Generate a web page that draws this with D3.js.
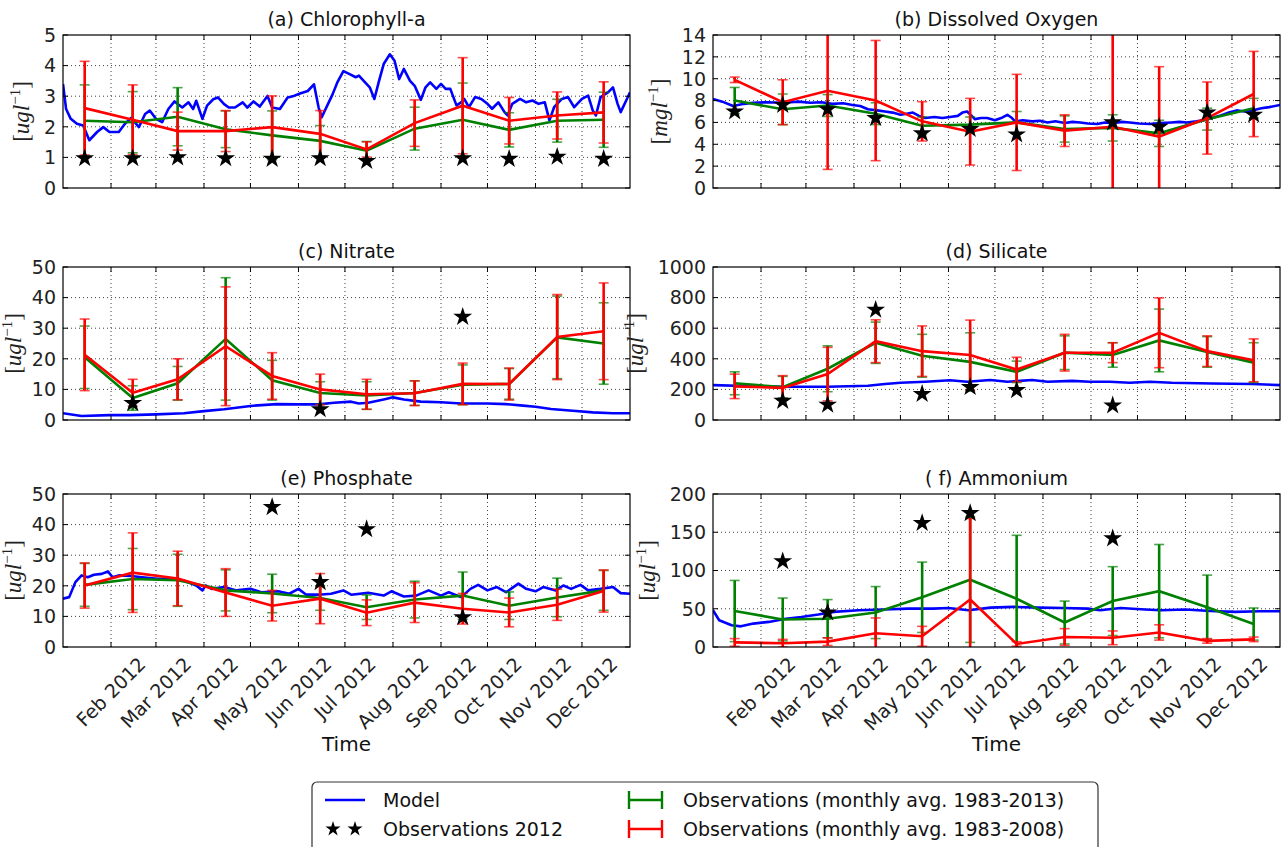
<!DOCTYPE html>
<html><head><meta charset="utf-8">
<script src="https://cdn.jsdelivr.net/npm/d3@7"></script>
<style>
body{margin:0;background:#fff;}
svg{display:block;font-family:"DejaVu Sans",sans-serif;}
</style></head><body>
<svg id="fig" width="1282" height="847"></svg>
<script>
// Monthly observation means/std are placed at the 15th of each month.
const monthIndex = [0,1,2,3,4,5,6,7,8,9,10,11];

// (a) Chlorophyll-a
const chlRedMean   = [2.61,2.23,1.86,1.86,1.99,1.77,1.26,2.12,2.69,2.2,2.37,2.47];
const chlRedErr    = [1.53,1.14,0.62,0.67,1.02,0.76,0.25,0.76,1.57,0.76,0.77,1.0];
const chlGreenMean = [2.2,2.15,2.33,1.92,1.72,1.54,1.22,1.94,2.23,1.9,2.2,2.23];
const chlGreenErr  = [1.17,1.0,0.95,0.6,0.8,0.5,0.3,0.7,1.2,0.56,0.7,0.9];
const chlStars     = [0.97,0.97,1.0,0.97,0.95,0.97,0.88,null,0.97,0.95,1.02,0.95];
const chlModel = [[0,3.4],[2,2.58],[5,2.26],[9,2.1],[13,2.04],[17,1.56],[22,1.83],[26,1.99],[30,1.83],[36,1.83],[40,2.1],[44,2.29],[49,1.99],[53,2.42],[56,2.53],[60,2.26],[64,2.15],[68,2.58],[72,2.83],[77,2.63],[81,2.8],[84,2.58],[86,2.85],[90,2.26],[93,2.69],[97,2.9],[100,2.96],[104,2.74],[107,2.63],[111,2.63],[116,2.8],[119,2.63],[123,2.83],[127,2.66],[132,3.01],[135,2.63],[140,2.58],[145,2.96],[149,3.01],[153,3.09],[158,3.17],[162,3.39],[165,2.63],[167,2.31],[171,2.74],[174,3.06],[177,3.44],[181,3.82],[185,3.72],[189,3.62],[191,3.67],[195,3.45],[198,3.29],[201,2.91],[204,3.5],[207,4.05],[211,4.37],[214,4.16],[217,3.56],[220,3.89],[224,3.5],[227,3.34],[231,2.88],[234,3.29],[237,3.45],[241,3.24],[244,3.4],[247,3.24],[250,3.24],[254,2.7],[257,2.8],[259,2.91],[262,2.64],[266,2.97],[270,2.91],[274,2.75],[277,2.59],[281,2.8],[285,2.48],[287,2.37],[290,2.75],[295,2.91],[299,2.8],[303,2.86],[307,2.75],[311,2.8],[314,2.21],[317,2.64],[322,2.91],[326,2.97],[330,2.64],[335,2.91],[339,3.02],[342,2.53],[344,2.37],[347,2.97],[352,3.13],[355,3.29],[358,2.75],[360,2.48],[364,2.91],[366,3.13]];

// (b) Dissolved Oxygen
const doRedMean   = [9.9,7.85,8.9,8.0,6.1,5.15,6.0,5.25,5.6,4.7,6.4,8.6];
const doRedErr    = [0.25,2.05,7.2,5.5,1.8,3.05,4.4,1.45,9.0,6.4,3.3,3.9];
const doGreenMean = [8.0,7.2,7.55,6.8,5.7,5.8,6.0,5.4,5.5,5.0,6.3,7.3];
const doGreenErr  = [1.2,1.4,1.0,1.0,0.8,0.7,1.0,1.2,1.2,1.2,1.0,0.9];
const doStars     = [7.0,7.6,7.2,6.4,5.0,5.4,4.9,null,6.0,5.6,6.9,6.7];
const doModel = [[0,8.15],[6,7.9],[13,7.5],[20,7.7],[26,7.8],[35,7.85],[45,7.8],[55,7.9],[63,7.8],[70,7.85],[77,7.7],[84,7.75],[90,7.6],[95,7.5],[100,7.2],[106,7.1],[111,7.0],[116,6.9],[121,6.7],[125,6.8],[129,6.9],[133,6.6],[137,6.4],[143,6.5],[148,6.4],[153,6.5],[158,6.6],[161,6.9],[164,7.0],[167,6.6],[169,6.3],[173,6.4],[177,6.4],[182,6.2],[186,6.4],[190,6.7],[193,6.4],[195,6.1],[200,6.2],[206,6.1],[211,6.15],[216,6.0],[221,6.1],[227,5.95],[232,6.05],[237,6.0],[242,5.9],[248,5.85],[253,6.0],[259,5.95],[264,6.05],[269,6.0],[275,5.9],[282,5.85],[289,5.95],[296,6.0],[301,6.05],[306,6.0],[312,6.1],[317,6.2],[322,6.4],[327,6.6],[333,6.9],[338,7.1],[343,7.0],[348,7.1],[354,7.3],[359,7.4],[366,7.6]];

// (c) Nitrate
const no3RedMean   = [21.3,8.9,13.3,24.1,14.4,10.0,8.4,8.75,11.8,11.75,27.1,29.0];
const no3RedErr    = [11.7,4.4,6.7,19.4,7.6,5.0,4.9,4.05,6.8,5.25,13.9,15.8];
const no3GreenMean = [20.5,7.2,12.0,26.5,13.0,8.8,8.0,8.8,11.5,11.8,27.0,25.0];
const no3GreenErr  = [10.2,4.0,5.5,20.0,6.5,3.7,4.5,4.0,6.5,5.0,13.5,13.3];
const no3Stars     = [null,5.5,null,null,null,3.5,null,null,33.7,null,null,null];
const no3Model = [[0,2.2],[12,1.3],[30,1.6],[43,1.6],[60,1.85],[78,2.2],[91,2.9],[104,3.5],[121,4.6],[138,5.2],[152,5.1],[165,5.1],[175,5.65],[186,6.0],[191,5.4],[197,5.65],[207,6.7],[213,7.4],[220,6.7],[231,6.0],[244,5.8],[257,5.4],[274,5.4],[286,5.2],[297,4.7],[305,4.35],[315,3.6],[329,3.0],[342,2.5],[355,2.2],[366,2.2]];

// (d) Silicate
const siRedMean   = [220,210,300,515,450,425,330,440,440,570,450,390];
const siRedErr    = [80,80,175,140,165,228,80,120,65,228,100,140];
const siGreenMean = [240,215,335,505,420,380,315,440,425,520,445,375];
const siGreenErr  = [75,70,150,135,140,190,70,110,80,205,100,130];
const siStars     = [null,125,100,720,170,215,195,null,95,null,null,null];
const siModel = [[0,228],[21,222],[45,217],[74,217],[100,224],[111,235],[121,243],[137,250],[153,260],[164,250],[179,261],[190,250],[206,261],[216,250],[232,256],[243,250],[256,250],[269,243],[282,250],[296,243],[322,239],[348,235],[366,228]];

// (e) Phosphate
const po4RedMean   = [20.1,24.3,22.4,17.8,13.5,15.8,11.2,14.5,12.5,11.3,13.8,18.3];
const po4RedErr    = [7.4,13.0,8.9,7.8,5.0,8.2,4.2,6.5,5.0,4.7,5.1,6.9];
const po4GreenMean = [20.3,22.2,21.8,18.5,17.5,16.0,13.0,15.5,16.8,13.5,16.2,18.5];
const po4GreenErr  = [7.0,10.0,8.5,6.7,6.3,4.0,4.0,6.0,7.7,4.5,6.3,6.5];
const po4Stars     = [null,null,null,null,45.7,21.2,38.5,null,9.7,null,null,null];
const po4Model = [[0,15.8],[4,16.3],[8,21.2],[12,23.4],[16,22.8],[20,23.6],[25,23.9],[29,24.7],[32,22.8],[36,23.4],[44,23.2],[51,22.8],[61,22.3],[70,22.3],[78,21.7],[86,20.1],[90,18.5],[92,20.1],[96,19.0],[104,19.6],[112,18.5],[121,19.0],[128,17.9],[139,18.2],[146,17.4],[152,19.0],[157,17.1],[165,17.1],[173,17.4],[181,18.5],[186,17.1],[197,17.7],[207,16.8],[212,18.2],[220,16.5],[228,16.8],[236,18.5],[244,16.8],[249,17.9],[257,16.3],[263,19.0],[268,20.3],[274,18.5],[280,19.6],[286,17.9],[294,20.7],[299,19.0],[305,18.2],[310,19.6],[318,18.5],[323,20.1],[328,19.0],[334,20.3],[339,18.5],[347,19.0],[355,19.6],[360,17.6],[366,17.4]];

// (f) Ammonium
const nh4RedMean   = [6,5,7,18,14,62,4,13,12,19,8,10];
const nh4RedErr    = [5,5,5,20,13,106,3,11,9,10,3,3];
const nh4GreenMean = [47,36,37,45,65,88,63,32,60,73,52,30];
const nh4GreenErr  = [40,28,25,34,46,82,83,28,45,61,42,21];
const nh4Stars     = [null,112,45,null,162,175,null,null,142,null,null,null];
const nh4Model = [[0,48],[4,35],[12,28.4],[18,27],[26,30.6],[36,32.8],[47,37],[57,39.3],[68,42.4],[78,45.9],[94,48],[110,49],[126,50.2],[142,50.2],[152,51],[165,48],[179,51.5],[194,52.4],[210,51.5],[226,51],[242,50.2],[250,48],[263,51],[279,49],[289,48],[305,49],[321,47],[337,45.9],[353,46.7],[366,46.7]];

const titles  = ["(a) Chlorophyll-a","(b) Dissolved Oxygen","(c) Nitrate","(d) Silicate","(e) Phosphate","( f) Ammonium"];
const units   = ["ugl","mgl","ugl","ugl","ugl","ugl"];
const yTicks  = [[0,1,2,3,4,5],[0,2,4,6,8,10,12,14],[0,10,20,30,40,50],[0,200,400,600,800,1000],[0,10,20,30,40,50],[0,50,100,150,200]];
const legendLabels = ["Model","Observations 2012","Observations (monthly avg. 1983-2013)","Observations (monthly avg. 1983-2008)"];

const panels = [
  {model:chlModel, gm:chlGreenMean, ge:chlGreenErr, rm:chlRedMean, re:chlRedErr, st:chlStars},
  {model:doModel,  gm:doGreenMean,  ge:doGreenErr,  rm:doRedMean,  re:doRedErr,  st:doStars},
  {model:no3Model, gm:no3GreenMean, ge:no3GreenErr, rm:no3RedMean, re:no3RedErr, st:no3Stars},
  {model:siModel,  gm:siGreenMean,  ge:siGreenErr,  rm:siRedMean,  re:siRedErr,  st:siStars},
  {model:po4Model, gm:po4GreenMean, ge:po4GreenErr, rm:po4RedMean, re:po4RedErr, st:po4Stars},
  {model:nh4Model, gm:nh4GreenMean, ge:nh4GreenErr, rm:nh4RedMean, re:nh4RedErr, st:nh4Stars}
];

const BLUE = "#0000ff", GREEN = "#008000", RED = "#ff0000";
const svg = d3.select("#fig");
const W = 567, H = 153;
const lefts = [63, 713], tops = [35, 267, 494];
const t0 = new Date(2012,0,1), t1 = new Date(2013,0,1);
const dayDate = d => new Date(2012,0,1+d);
const obsDate = i => new Date(2012,i,15);
const monthTicks = d3.timeMonth.range(new Date(2012,1,1), new Date(2012,11,2));
const star = d3.symbol().type(d3.symbolStar);

panels.forEach((p, k) => {
  const col = k % 2, row = Math.floor(k / 2);
  const g = svg.append("g").attr("transform", `translate(${lefts[col]},${tops[row]})`);
  const ticks = yTicks[k];
  const x = d3.scaleTime().domain([t0, t1]).range([0, W]);
  const y = d3.scaleLinear().domain([0, d3.max(ticks)]).range([H, 0]);

  const clipId = "clip" + k;
  g.append("clipPath").attr("id", clipId).append("rect").attr("width", W).attr("height", H);

  // dotted grid
  const grid = g.append("g").attr("stroke", "#000").attr("stroke-width", 1)
    .attr("stroke-dasharray", "1,3").attr("opacity", 0.75);
  grid.selectAll(".gx").data(monthTicks).join("line")
    .attr("x1", d => x(d)).attr("x2", d => x(d)).attr("y1", 0).attr("y2", H);
  grid.selectAll(".gy").data(ticks.slice(1, -1)).join("line")
    .attr("x1", 0).attr("x2", W).attr("y1", d => y(d)).attr("y2", d => y(d));

  const plot = g.append("g").attr("clip-path", `url(#${clipId})`);

  // model daily series
  plot.append("path").datum(p.model)
    .attr("fill", "none").attr("stroke", BLUE).attr("stroke-width", 2.6).attr("stroke-linejoin", "round")
    .attr("d", d3.line().x(d => x(dayDate(d[0]))).y(d => y(d[1])));

  // monthly climatologies with std error bars
  const drawObs = (mean, err, color) => {
    const eg = plot.append("g").attr("stroke", color);
    monthIndex.forEach(i => {
      const cx = x(obsDate(i));
      const lo = y(mean[i] - err[i]), hi = y(mean[i] + err[i]);
      eg.append("line").attr("x1", cx).attr("x2", cx).attr("y1", lo).attr("y2", hi).attr("stroke-width", 2.6);
      [lo, hi].forEach(cy => eg.append("line").attr("x1", cx - 5).attr("x2", cx + 5)
        .attr("y1", cy).attr("y2", cy).attr("stroke-width", 1.6).attr("stroke-opacity", 0.7));
    });
    plot.append("path").datum(monthIndex)
      .attr("fill", "none").attr("stroke", color).attr("stroke-width", 2.6)
      .attr("d", d3.line().x(i => x(obsDate(i))).y(i => y(mean[i])));
  };
  drawObs(p.gm, p.ge, GREEN);
  drawObs(p.rm, p.re, RED);

  // 2012 samples
  plot.selectAll(".star").data(monthIndex.filter(i => p.st[i] !== null)).join("path")
    .attr("transform", i => `translate(${x(obsDate(i))},${y(p.st[i])})`)
    .attr("d", star.size(110)()).attr("fill", "#000");

  // axes frame with inward ticks on all sides
  g.append("rect").attr("width", W).attr("height", H).attr("fill", "none").attr("stroke", "#000").attr("stroke-width", 1.2);
  const tk = g.append("g").attr("stroke", "#000").attr("stroke-width", 1);
  monthTicks.forEach(d => {
    tk.append("line").attr("x1", x(d)).attr("x2", x(d)).attr("y1", H).attr("y2", H - 5);
    tk.append("line").attr("x1", x(d)).attr("x2", x(d)).attr("y1", 0).attr("y2", 5);
  });
  ticks.forEach(v => {
    tk.append("line").attr("x1", 0).attr("x2", 5).attr("y1", y(v)).attr("y2", y(v));
    tk.append("line").attr("x1", W).attr("x2", W - 5).attr("y1", y(v)).attr("y2", y(v));
  });

  // y tick labels
  const yLabels = g.selectAll(".yl").data(ticks).join("text")
    .attr("x", -7).attr("y", d => y(d)).attr("dy", "0.36em")
    .attr("text-anchor", "end").attr("font-size", 19).attr("fill", "#222").text(d => d);
  const tickW = d3.max(yLabels.nodes(), n => n.getComputedTextLength());

  // title
  g.append("text").attr("x", W / 2).attr("y", -9).attr("text-anchor", "middle")
    .attr("font-size", 19).attr("fill", "#111").text(titles[k]);

  // unit label, left of the tick labels but kept inside the figure
  const off = Math.min(tickW + 22, lefts[col] - 21);
  const yl = g.append("text").attr("transform", `translate(${-off},${H / 2}) rotate(-90)`)
    .attr("text-anchor", "middle").attr("font-family", "'Liberation Serif','DejaVu Serif',serif")
    .attr("font-size", 23).attr("fill", "#222");
  yl.append("tspan").text("[");
  yl.append("tspan").attr("font-style", "italic").text(units[k]);
  yl.append("tspan").attr("font-size", 15).attr("dy", -9).text("−1");
  yl.append("tspan").attr("dy", 9).text("]");

  // time axis labels on the bottom row
  if (row === 2) {
    const fmt = d3.timeFormat("%b %Y");
    monthTicks.forEach(d => {
      const t = g.append("text").attr("font-size", 19).attr("fill", "#222")
        .attr("text-anchor", "middle").attr("dy", "0.35em").text(fmt(d));
      const w = t.node().getComputedTextLength();
      const half = (w + 19) * Math.SQRT1_2 / 2;
      t.attr("transform", `translate(${x(d)},${H + 7 + half}) rotate(-45)`);
    });
    g.append("text").attr("x", W / 2).attr("y", H + 104).attr("text-anchor", "middle")
      .attr("font-size", 20).attr("fill", "#111").text("Time");
  }
});

// legend
const lg = svg.append("g").attr("transform", "translate(312,782)");
lg.append("rect").attr("width", 786).attr("height", 80).attr("rx", 5)
  .attr("fill", "#fff").attr("stroke", "#333").attr("stroke-width", 1.2);
const r1 = 18, r2 = 47;
lg.append("line").attr("x1", 13).attr("x2", 53).attr("y1", r1).attr("y2", r1).attr("stroke", BLUE).attr("stroke-width", 2.6);
[21, 43].forEach(sx => lg.append("path").attr("transform", `translate(${sx},${r2})`)
  .attr("d", star.size(70)()).attr("fill", "#000"));
[[GREEN, r1], [RED, r2]].forEach(([c, ry]) => {
  const eg = lg.append("g").attr("stroke", c).attr("stroke-width", 2.4);
  eg.append("line").attr("x1", 317).attr("x2", 350).attr("y1", ry).attr("y2", ry);
  [317, 350].forEach(ex => eg.append("line").attr("x1", ex).attr("x2", ex).attr("y1", ry - 9).attr("y2", ry + 9));
});
const lt = [[71, r1, 0], [71, r2, 1], [371, r1, 2], [371, r2, 3]];
lt.forEach(([tx, ty, i]) => lg.append("text").attr("x", tx).attr("y", ty).attr("dy", "0.36em")
  .attr("font-size", 19).attr("fill", "#111").text(legendLabels[i]));
</script>
</body></html>
